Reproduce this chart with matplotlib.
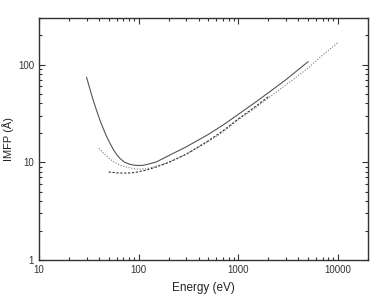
import matplotlib
matplotlib.use("Agg")
import matplotlib.pyplot as plt
from matplotlib.ticker import LogLocator, NullFormatter, FixedLocator, FixedFormatter

plt.rcParams['font.family'] = ['Liberation Sans', 'DejaVu Sans']

# Solid curve
e_solid = [30, 32.4, 34.9, 37.8, 40.7, 44, 47.5, 51.3, 55.3, 59.8, 64.6, 72.4, 81.3, 91.2, 100, 112, 129,
           151, 200, 300, 500, 700, 1000, 1500, 2000, 3000, 5000]
imfp_solid = [74, 56.4, 43.5, 34.0, 27.3, 22.3, 18.5, 15.8, 13.7, 12.1, 11.0, 10.0, 9.55, 9.33, 9.27, 9.33, 9.66,
              10.1, 11.7, 14.4, 19.3, 24.0, 31, 41.5, 51.5, 70, 107]

# Dotted curve
e_dot = [40, 45, 51, 57, 65, 72, 81, 90, 100, 120, 150, 200, 300, 500, 700, 1000, 1500, 2000, 3000, 5000, 7000, 10000]
imfp_dot = [13.9, 12.2, 10.9, 10.0, 9.4, 9.05, 8.8, 8.6, 8.5, 8.6, 9.1, 10.1, 12.1, 16.3, 20.4, 27.3, 36.5, 45.5, 62, 92, 125, 168]

# Dashed curve
e_dash = [50, 60, 70, 80, 90, 100, 120, 150, 200, 300, 500, 700, 1000, 1500, 2000]
imfp_dash = [7.95, 7.8, 7.75, 7.78, 7.85, 8.0, 8.35, 8.95, 9.95, 12.1, 16.6, 21.0, 27.8, 37.5, 47]

fig = plt.figure(figsize=(3.71, 2.94), dpi=100)
ax = fig.add_axes([39/371, 34/294, 329/371, 242/294])

ax.plot(e_solid, imfp_solid, color='#555555', lw=0.8, ls='-')
ax.plot(e_dot, imfp_dot, color='#777777', lw=0.8, ls=(0, (1, 1.5)))
ax.plot(e_dash, imfp_dash, color='#333333', lw=0.8, ls=(0, (2, 1.5)))

ax.set_xscale('log')
ax.set_yscale('log')
ax.set_xlim(10, 20000)
ax.set_ylim(1, 300)

ax.xaxis.set_major_locator(FixedLocator([10, 100, 1000, 10000]))
ax.xaxis.set_major_formatter(FixedFormatter(['10', '100', '1000', '10000']))
ax.yaxis.set_major_locator(FixedLocator([1, 10, 100]))
ax.yaxis.set_major_formatter(FixedFormatter(['1', '10', '100']))
ax.xaxis.set_minor_locator(LogLocator(base=10, subs=range(2, 10)))
ax.yaxis.set_minor_locator(LogLocator(base=10, subs=range(2, 10)))
ax.xaxis.set_minor_formatter(NullFormatter())
ax.yaxis.set_minor_formatter(NullFormatter())

ax.tick_params(which='both', direction='in', top=True, right=True, colors='#333333',
               labelsize=7, width=0.8)
ax.tick_params(which='major', length=4)
ax.tick_params(which='minor', length=2.5)
for s in ax.spines.values():
    s.set_color('#333333')
    s.set_linewidth(1.0)

ax.set_xlabel('Energy (eV)', fontsize=8.5, color='#222222', labelpad=5)
ax.set_ylabel('IMFP (Å)', fontsize=8, color='#222222', labelpad=3)

fig.savefig('out.png', dpi=100)
